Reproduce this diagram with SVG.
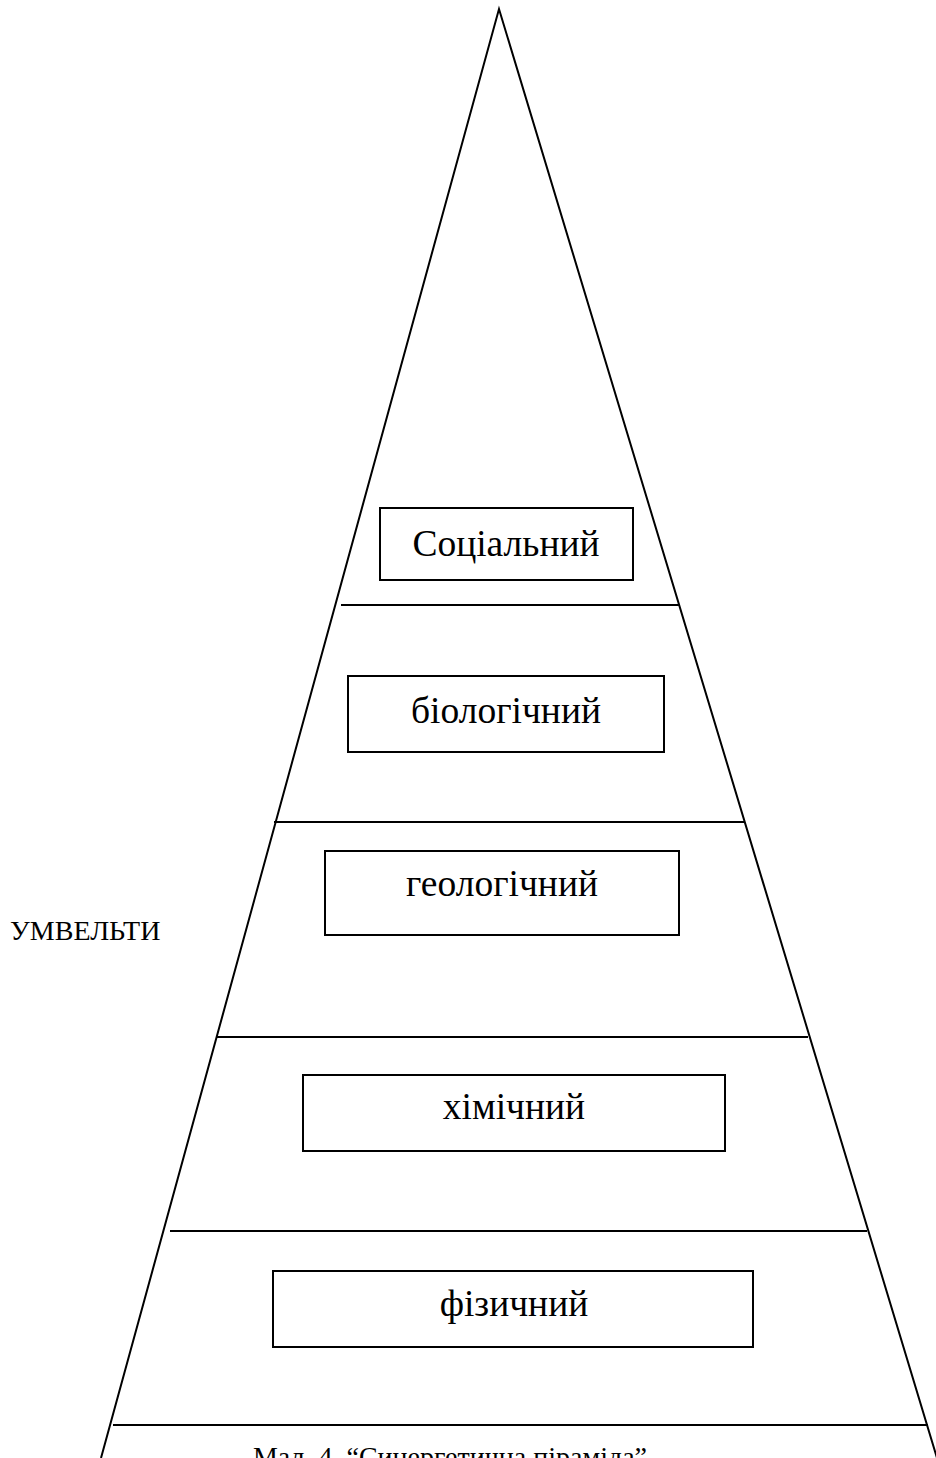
<svg xmlns="http://www.w3.org/2000/svg" width="936" height="1458" viewBox="0 0 936 1458">
<style>
.ln{stroke:#000;stroke-width:2;fill:none}
.bx{stroke:#000;stroke-width:2;fill:#fff}
.t{font-family:"Liberation Serif","Times New Roman",serif;fill:#000}
.lvl{font-size:37.5px;text-anchor:middle}
</style>
<rect width="936" height="1458" fill="#fff"/>
<g id="connectors">
<polyline class="ln" points="101,1458 499,9 937,1458"/>
<line class="ln" x1="341" y1="605" x2="680" y2="605"/>
<line class="ln" x1="274" y1="822" x2="744" y2="822"/>
<line class="ln" x1="217" y1="1037" x2="808" y2="1037"/>
<line class="ln" x1="170" y1="1231" x2="867" y2="1231"/>
<line class="ln" x1="113" y1="1425" x2="928" y2="1425"/>
</g>
<g id="social">
<rect class="bx" x="380" y="508" width="253" height="72"/>
<text class="t lvl" x="506" y="556">Соціальний</text>
</g>
<g id="biological">
<rect class="bx" x="348" y="676" width="316" height="76"/>
<text class="t lvl" x="506" y="723">біологічний</text>
</g>
<g id="geological">
<rect class="bx" x="325" y="851" width="354" height="84"/>
<text class="t lvl" x="502" y="896">геологічний</text>
</g>
<g id="chemical">
<rect class="bx" x="303" y="1075" width="422" height="76"/>
<text class="t lvl" x="514" y="1119">хімічний</text>
</g>
<g id="physical">
<rect class="bx" x="273" y="1271" width="480" height="76"/>
<text class="t lvl" x="514" y="1316">фізичний</text>
</g>
<g id="umwelt">
<text class="t" x="10" y="940" font-size="28">УМВЕЛЬТИ</text>
</g>
<g id="caption">
<text class="t" x="450" y="1466" font-size="28" text-anchor="middle">Мал. 4. “Синергетична піраміда”</text>
</g>
</svg>
